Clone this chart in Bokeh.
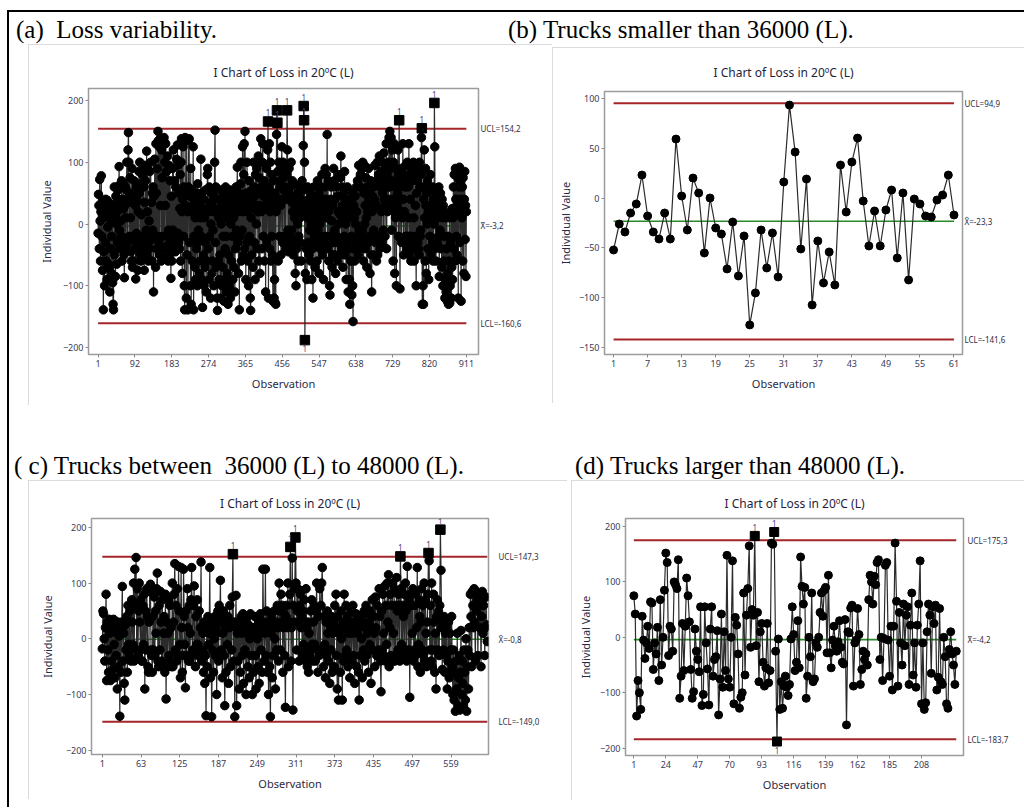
from bokeh.plotting import figure
from bokeh.models import Range1d, LinearAxis, FixedTicker, Div, Spacer
from bokeh.layouts import row, column
from bokeh.embed import file_html
from bokeh.resources import INLINE
from bokeh.core.properties import value

# ---------------- data ----------------
loss_all = [
    -15, 48, 30, -40, 72, 5, -60, 20, 78, -20, 35, -75, 10, -139, -45, 28, -100, 15, -30, 40,
    -60, 20, -90, 38, -5, -65, 15, -70, 30, -110, 25, -40, 5, -80, -20, 32, -95, -130, -139, 10,
    60, -50, 15, -85, 45, 0, -65, 20, -30, 55, 30, 62, 93, -10, -40, 35, 5, -20, 70, -60,
    40, -30, 65, 25, -50, -87, 30, 60, 10, -40, 55, 100, 40, -30, 120, 148, 100, -20, 45, 75,
    10, -45, -60, 35, 90, -70, 50, -25, -60, 70, -40, -20, 30, -89, 60, -15, -40, 38, -75, 20,
    -30, 85, 50, 100, -50, 65, -60, 15, -30, 80, -45, 95, -20, 60, -75, 35, -40, 70, 95, -10,
    118, -50, 20, 88, -60, -30, 5, -40, 85, -20, 100, -25, 35, -60, 50, -10, 60, -110, 45, -20,
    105, -20, -70, 130, 50, -40, 90, -20, 150, 135, -30, 125, -50, 138, 30, 132, -60, 120, 75, -20,
    128, -40, 135, 140, -55, 100, 30, 130, -40, 85, -20, -35, 110, -60, -10, 95, -35, -50, 70, -30,
    -88, 45, -60, -30, 90, -10, 120, -40, -20, 70, -25, -45, 60, -20, 105, -35, 128, -15, 95, -30,
    50, -40, 25, 80, -60, 100, 138, 20, -80, 40, 125, -20, 60, -100, -139, 140, 30, 50, -120, 135,
    -50, 20, -139, 60, 137, 138, -30, 45, -100, 90, -130, 20, 55, -60, 30, 125, -139, -20, 40, -70,
    10, -90, 50, -40, 20, -100, 65, -30, -10, 45, -80, 30, -60, 10, 105, -20, 50, -90, -135, 20,
    -50, 40, -100, 10, -70, 55, -30, -110, 25, -60, 80, 90, -40, 20, -90, 60, -20, 35, -120, 0,
    50, -80, 30, -60, -10, 20, -100, 45, 100, 152, -30, 60, -70, 20, -120, -140, 40, -60, 10, -90,
    25, -50, 55, -120, 0, 40, -100, 30, -70, -20, 50, -125, -90, 20, -40, 60, -110, -20, 35, -80,
    10, -130, 45, -50, 20, -100, 55, -120, 0, 30, -60, 40, -20, -90, 50, 10, -70, 30, -110, 20,
    -40, 60, -10, 45, 92, -30, 20, -80, 50, -139, 30, -20, 65, 100, -60, 40, -10, 125, 20, -50,
    80, 130, -40, 150, 30, -90, 50, -30, 100, 20, -60, 40, -100, 70, -20, 35, -120, -140, 10, 55,
    -50, 40, 25, -70, 100, 60, -30, 45, -90, 80, 30, 0, 90, -40, 55, 20, 110, -60, 75, 30,
    -80, 50, 138, 20, 60, -40, 100, 130, -20, 45, 70, -60, 30, 25, -110, 50, 90, -30, 40, 120,
    166, -120, 60, 130, -40, 20, 100, -60, 40, -20, 80, -50, -125, 30, 70, -120, -90, 50, -128, -130,
    20, 145, 184, 164, 85, -60, 40, 100, -20, 60, 70, 30, -50, 90, 125, 40, -30, 100, 75, 55,
    -20, 60, 95, -30, -40, 40, 80, 184, 120, -10, -45, 50, 90, -20, -30, 60, -40, 100, -10, 35,
    70, 20, -50, 40, -30, 65, 10, -80, 30, -100, 20, -40, 50, 0, -60, 35, -20, 45, 60, 10,
    -30, 40, -60, 20, 70, 30, 55, 127, 191, 168, 100, -188, -80, 30, -40, 20, -90, 10, 60, -30,
    40, -50, 20, -10, 50, -60, 35, 0, -90, 20, -40, -120, 15, 60, -20, 40, -70, 10, 45, -30,
    30, -60, 70, -10, 40, 20, -80, 50, 0, -40, 35, 60, -20, 80, 10, -50, 40, -90, 25, -30,
    60, 90, -20, 40, 80, 10, 145, -40, 70, 20, -60, 30, -100, -115, 40, -20, 60, 5, -70, 30,
    -50, -30, 90, 70, -10, -50, 40, -80, -30, 60, -20, 45, -60, 20, 80, 0, -30, -50, 15, 75,
    110, 20, -40, 60, 30, -70, 10, 50, -20, 85, -50, 40, 0, -90, 30, -30, 60, 20, -110, 10,
    -40, -90, -130, 20, -60, 40, -20, -115, 50, -100, -158, -40, 30, 10, -60, 45, 0, -30, 60, 20,
    -20, 70, -30, -50, 95, -10, -40, 60, 80, -20, -30, 90, -40, -10, 100, -20, -60, 50, 95, 0,
    30, -40, 75, 10, -70, 60, 20, -30, 90, 40, -20, 50, -80, 30, 70, -50, -110, 20, 45, -20,
    60, -10, -50, 40, 95, -30, -20, 70, -60, 30, 100, -50, -20, 80, -20, 110, -40, 60, -30, 85,
    20, -30, 100, 50, 70, -10, 115, 40, 60, -20, 90, 30, 130, -40, 80, 20, 60, 100, 40, 140,
    60, 150, 90, 30, 140, -10, 70, 120, 40, -60, 100, 20, 130, -80, 60, 10, 90, -100, 70, 30,
    50, 120, -20, 80, 168, 40, -105, 60, 20, 90, -30, 70, 10, 130, 40, -50, 80, 20, 60, -20,
    95, -30, -40, 70, 100, -20, 60, 10, 130, -50, -20, 80, 40, -60, 90, -20, -30, 70, -40, 100,
    10, -60, -40, 80, 30, -20, -100, 50, -20, 70, -30, 90, -40, -50, 100, 60, -20, -10, 80, 140,
    155, -130, 60, -100, -130, 40, 120, 10, -60, 90, 30, -80, 50, 0, 70, -40, 20, -90, 60, 30,
    -20, 80, 10, -50, 55, 20, -30, 60, -60, 40, 0, 196, 125, -40, 30, -60, 20, 50, -30, 10,
    40, -20, 60, -85, 30, -10, 50, -40, 20, -70, 40, 10, -100, 30, -60, -20, 20, -120, -90, 10,
    -110, -40, 15, -125, -80, -20, -130, -60, 10, -128, -100, -30, 20, -120, -70, 25, -90, 10, 60, -40,
    80, 20, -60, 90, 40, -20, 85, -50, 30, 75, -120, 60, 20, 92, -30, 70, 40, -125, 80, 10,
    60, -60, 75, 20, -80, 40, 85, -25, 30, -85, 20,
]

loss_small = [
    -52, -26, -34, -15, -6, 23, -18, -34, -41, -15, -41, 59, 2, -32, 20, 5, -55, 0, -30, -36,
    -71, -24, -78, -38, -127, -95, -32, -70, -35, -79, 16, 93, 46, -51, 19, -107, -43, -85, -54, -87,
    33, -14, 36, 60, -3, -48, -13, -48, -12, 8, -60, 5, -82, -1, -6, -18, -19, -2, 3, 23,
    -17,
]

loss_mid = [
    -18, 50, 45, 0, -40, 20, 80, -75, 30, -20, -60, 35, 10, -75, 30, -40, 20, -55, 35, -10,
    -70, 25, -30, 10, -90, 30, -50, 5, -139, 20, -60, 30, 94, -40, 10, -80, -110, 25, -20, 40,
    -60, 60, -10, -30, 50, -20, -40, 70, 30, -10, 100, -40, 125, 60, 146, -20, 90, -30, 50, 100,
    30, -20, 70, -40, -40, 60, -10, 80, -90, 50, -20, 90, 40, -50, -60, 30, 85, 98, -20, -30,
    -60, 40, -20, 75, -30, 50, 10, 90, 118, -40, -50, 60, -20, 85, 30, -40, 70, -50, 10, 40,
    -60, 80, -108, 30, -50, 10, 70, -30, 60, -40, 20, -50, 100, -50, 30, 80, 135, -20, 60, -40,
    90, -30, 130, 50, -10, -70, 128, 20, -60, -30, 125, 40, -10, -88, 50, -30, 90, 20, -40, 60,
    -40, 10, 70, 128, -30, -20, 60, 95, -20, -50, 40, -10, 70, -10, -30, 50, -30, 20, 138, -40,
    -20, 10, -60, 30, -80, -30, -138, 20, -50, 40, -10, 10, 128, -70, 20, -140, -20, 30, -60, 0,
    40, -30, 20, -100, 10, 50, -40, 60, 30, 105, -20, 40, -70, 10, 50, -30, -120, 20, -60, 30,
    -10, 40, -80, 20, 60, -50, 30, -20, 75, 152, -40, 30, -140, 20, 78, -120, 10, -40, 30, -90,
    20, -60, 40, 10, -30, 45, -80, 20, -20, 30, -100, 10, 40, -50, 25, -70, 0, 45, -30, 15,
    -100, 20, -60, 10, 40, -30, -90, 20, 0, -50, 30, -80, 10, 45, -20, 20, -60, 125, 30, -40,
    10, 125, -30, 50, -60, 20, -100, 30, -50, -140, 10, 40, -70, 20, -30, 50, 0, -90, 30, -20,
    60, 20, -40, 100, 50, -20, 80, 30, 60, -60, 20, 45, -30, -123, 40, 60, 20, 100, -50, 30,
    80, 165, -40, 20, 145, -128, 60, 30, 90, 182, 100, -20, 50, 90, 30, -40, 60, 80, 20, 40,
    -30, 50, -10, 70, -20, -40, 90, 20, -50, 30, -60, 10, -30, 50, -20, 70, -10, -40, 30, 60,
    -10, -40, 50, 100, -20, -60, 40, -30, 90, -20, 60, 100, 128, -20, -50, 40, -10, -70, 30, -30,
    50, 10, -40, 30, -80, 20, -20, 40, -60, 10, 30, -50, 60, 20, 80, -30, -90, 40, -110, 10,
    20, -60, 50, 0, -110, 30, -40, 80, 20, -30, 60, -20, 40, -50, 10, 30, -70, 20, 50, -40,
    10, 60, -30, 30, -80, 20, 45, -50, 10, 30, -60, -110, 20, -30, 40, 0, -70, 30, -20, 50,
    -40, 20, 60, -30, 10, 45, -60, 30, -10, 50, -80, 20, 70, -20, 40, 10, -50, 75, 20, -30,
    60, -30, -20, 90, 40, -40, -95, 50, -20, 80, 10, -30, 95, -40, 60, -10, 100, 30, 115, -50,
    20, 80, -30, 60, 100, -40, 10, 90, -40, 60, -30, 110, 50, -20, 80, 60, -40, 148, 90, -10,
    60, -30, 40, 80, -20, 100, 50, -40, 130, 60, -20, 70, -105, 80, -30, 60, 10, 90, -40, -20,
    60, -30, 80, 20, 128, -50, -10, 70, 40, -60, 30, 90, -20, 60, -30, 100, -40, 70, 10, -50,
    30, 80, 154, 140, -20, 60, -40, 100, -50, -20, 80, 30, -60, 10, -90, 40, 70, -20, 50, -30,
    60, 196, 123, 20, -55, 30, -20, 40, -60, 10, -30, 20, -90, -40, 30, -70, 10, -60, -20, 40,
    -50, -100, -20, -110, -60, -130, -40, -90, 10, -120, -70, -30, -128, -60, 15, -100, -40, -80, -120, -20,
    -60, -110, 0, -130, -50, -20, -90, 20, -30, 80, 40, -50, 85, 60, 20, 90, 30, -40, 85, 50,
    70, -30, 60, 80, 20, 75, -50, 40, 85, 10, 60, 75, -30, 20, 75, 25, -5,
]

loss_large = [
    75, 42, -142, -78, -100, -130, 38, -5, -38, -10, 20, -20, 64, 62, -58, -10, -30, 18, -78, 68,
    -50, 0, 85, 152, 135, -33, 20, 15, -25, 100, 95, 88, 140, -110, -70, 25, -60, 20, 107, 75,
    28, -58, -110, -98, 15, -25, -40, -62, 55, -123, -103, 55, -10, -57, -122, 15, 55, -70, -40, -35,
    12, -140, -75, 42, -90, 10, -60, 148, -75, -90, 0, 138, -120, 36, 22, -30, -128, -108, -100, 80,
    -68, 40, 88, 165, -18, 50, 40, 183, -15, 45, -80, 10, 25, -45, -88, -55, 25, -82, -60, 170,
    168, 190, -25, -188, -3, -130, -80, -128, -88, -70, -90, -105, -85, -3, 55, 5, -60, -45, 30, -55,
    145, 92, 60, 90, -110, -70, 0, -35, 80, -80, -75, -10, -18, 0, 45, 80, 38, 85, 90, -28,
    112, -28, -55, -5, 20, -15, -25, -8, 30, -18, -45, -48, 32, -158, 10, 8, 53, 58, -88, -10,
    -5, 52, 5, -85, -58, -25, -40, -30, -50, 68, 112, 100, 60, 110, 95, 135, 140, -40, 0, -78,
    -2, 130, 135, -5, -70, 20, -95, 20, 170, 65, -88, 45, -10, -50, 60, -15, 40, 55, -85, 22,
    80, -68, -10, -90, 22, 60, 138, -120, -10, -130, -118, 10, 60, 40, -65, 55, 25, 58, -95, -72,
    52, -80, -85, 0, -35, -120, -128, -22, 10, -30, -50, -85, -25,
]

limits_all = [154.2, -3.2, -160.6]
limits_small = [94.9, -23.3, -141.6]
limits_mid = [147.3, -0.8, -149.0]
limits_large = [175.3, -4.2, -183.7]

limit_labels_all = ["UCL=154,2", "X\u0304=-3,2", "LCL=-160,6"]
limit_labels_small = ["UCL=94,9", "X\u0304=-23,3", "LCL=-141,6"]
limit_labels_mid = ["UCL=147,3", "X\u0304=-0,8", "LCL=-149,0"]
limit_labels_large = ["UCL=175,3", "X\u0304=-4,2", "LCL=-183,7"]

xticks_all = [1, 92, 183, 274, 365, 456, 547, 638, 729, 820, 911]
xticks_small = [1, 7, 13, 19, 25, 31, 37, 43, 49, 55, 61]
xticks_mid = [1, 63, 125, 187, 249, 311, 373, 435, 497, 559]
xticks_large = [1, 24, 47, 70, 93, 116, 139, 162, 185, 208]
yticks_all = [-200, -100, 0, 100, 200]
yticks_small = [-150, -100, -50, 0, 50, 100]
yticks_mid = [-200, -100, 0, 100, 200]
yticks_large = [-200, -100, 0, 100, 200]

chart_title = "I Chart of Loss in 20\u00baC (L)"
panel_labels = ["(a)  Loss variability.",
                "(b) Trucks smaller than 36000 (L).",
                "( c) Trucks between  36000 (L) to 48000 (L).",
                "(d) Trucks larger than 48000 (L)."]

SANS = "Noto Sans"


def ichart(vals, lims, lim_labels, xticks, yticks, xr, yr, w, h, borders,
           title_standoff, ylab_standoff, lim_standoff, msize):
    bl, br, bt, bb = borders
    p = figure(width=w, height=h, x_range=Range1d(*xr), y_range=Range1d(*yr),
               output_backend="svg", toolbar_location=None,
               min_border_left=bl, min_border_right=br,
               min_border_top=bt, min_border_bottom=bb,
               background_fill_color="white", border_fill_color="white",
               outline_line_color="#9c9c9c", outline_line_width=1.5,
               styles={"outline": "1.5px solid #cfcfcf", "outline-offset": "-1px"})
    p.title.text = chart_title
    p.title.align = "center"
    p.title.offset = 5
    p.title.standoff = title_standoff
    p.title.text_font = SANS
    p.title.text_font_size = "12px"
    p.title.text_font_style = "normal"
    p.title.text_color = "#1e1e3c"
    p.xgrid.visible = False
    p.ygrid.visible = False

    ucl, cl, lcl = lims
    n = len(vals)
    obs = list(range(1, n + 1))
    p.line([1, n], [ucl, ucl], color="#A3262A", line_width=2)
    p.line([1, n], [lcl, lcl], color="#A3262A", line_width=2)
    p.line([1, n], [cl, cl], color="#2A8A2A", line_width=1.6)
    p.line(obs, vals, color="#2b2b2b", line_width=1.2)

    ix = [i for i, v in zip(obs, vals) if lcl <= v <= ucl]
    iv = [v for v in vals if lcl <= v <= ucl]
    p.scatter(ix, iv, marker="circle", size=msize, color="#000000")

    hx = [i for i, v in zip(obs, vals) if v > ucl]
    hv = [v for v in vals if v > ucl]
    lx = [i for i, v in zip(obs, vals) if v < lcl]
    lv = [v for v in vals if v < lcl]
    p.scatter(hx + lx, hv + lv, marker="square", size=msize + 1, color="#000000")
    p.text(hx, hv, text=["1"] * len(hx), text_font=value(SANS), text_font_size="8px",
           text_align="center", text_baseline="bottom", y_offset=-5, text_color="#4a3f7a")
    p.text(lx, lv, text=["1"] * len(lx), text_font=value(SANS), text_font_size="8px",
           text_align="center", text_baseline="top", y_offset=5, text_color="#4a3f7a")

    for ax in (p.xaxis[0], p.yaxis[0]):
        ax.axis_line_color = None
        ax.major_tick_line_color = "#8a8a8a"
        ax.major_tick_out = 3
        ax.major_tick_in = 0
        ax.minor_tick_line_color = None
        ax.major_label_text_font = SANS
        ax.major_label_text_font_size = "9px"
        ax.major_label_text_color = "#3a3a55"
        ax.major_label_standoff = 2
        ax.axis_label_text_font = SANS
        ax.axis_label_text_font_size = "11px"
        ax.axis_label_text_font_style = "normal"
        ax.axis_label_text_color = "#2a2a44"
    p.xaxis.ticker = FixedTicker(ticks=xticks)
    p.yaxis.ticker = FixedTicker(ticks=yticks)
    p.xaxis.axis_label = "Observation"
    p.yaxis.axis_label = "Individual Value"
    p.xaxis.axis_label_standoff = 6
    p.yaxis.axis_label_standoff = ylab_standoff

    rax = LinearAxis(ticker=FixedTicker(ticks=list(lims)),
                     major_label_overrides={lims[0]: lim_labels[0], lims[1]: lim_labels[1],
                                            lims[2]: lim_labels[2]},
                     axis_line_color=None, major_tick_line_color=None, major_tick_out=0,
                     major_tick_in=0, minor_tick_line_color=None,
                     major_label_standoff=lim_standoff,
                     major_label_text_font=SANS, major_label_text_font_size="8px",
                     major_label_text_color="#2e2e44")
    p.add_layout(rax, "right")
    return p


fig_a = ichart(loss_all, limits_all, limit_labels_all, xticks_all, yticks_all,
               (-22.7, 941), (-211.3, 219.4), 524, 361, (60, 74, 44, 51), 15, 6, 2, 8.5)
fig_b = ichart(loss_small, limits_small, limit_labels_small, xticks_small, yticks_small,
               (-0.6, 62.5), (-156.6, 106.6), 472, 356, (52, 62, 44, 49), 21, 3, 2, 8)
fig_c = ichart(loss_mid, limits_mid, limit_labels_mid, xticks_mid, yticks_mid,
               (-16.3, 619), (-207.7, 216), 539, 319, (63, 79, 38, 44), 14, 8, 10, 8.5)
fig_d = ichart(loss_large, limits_large, limit_labels_large, xticks_large, yticks_large,
               (-5, 238.2), (-213.2, 214.4), 453, 320, (54, 61, 38, 45), 14, 4, 4, 8)


def label_div(text, w, h):
    return Div(text=text, width=w, height=h, margin=0,
               styles={"font-family": "Liberation Serif", "font-size": "25px",
                       "line-height": "25px", "white-space": "pre", "color": "#000000",
                       "overflow": "visible"})


black = {"background-color": "#000000"}

labels1 = row(Spacer(width=7, height=32),
              column(Spacer(width=492, height=5), label_div(panel_labels[0], 492, 27)),
              column(Spacer(width=516, height=5), label_div(panel_labels[1], 516, 27)))
figs1 = row(Spacer(width=19, height=361), fig_a,
            column(Spacer(width=472, height=3), fig_b))
labels2 = row(Spacer(width=5, height=75),
              column(Spacer(width=561, height=48), label_div(panel_labels[2], 561, 27)),
              column(Spacer(width=449, height=48), label_div(panel_labels[3], 449, 27)))
figs2 = row(Spacer(width=19, height=320), fig_c, Spacer(width=4, height=320), fig_d)

main = column(labels1, figs1, labels2, figs2)
body = row(Spacer(width=7, height=795),
           Div(text="", width=2, height=795, margin=0, styles=black), main)
top_line = row(Spacer(width=7, height=2),
               Div(text="", width=1017, height=2, margin=0, styles=black))
root = column(Spacer(width=1024, height=10), top_line, body)

with open("out.html", "w") as f:
    f.write(file_html(root, INLINE, title="I Charts"))
